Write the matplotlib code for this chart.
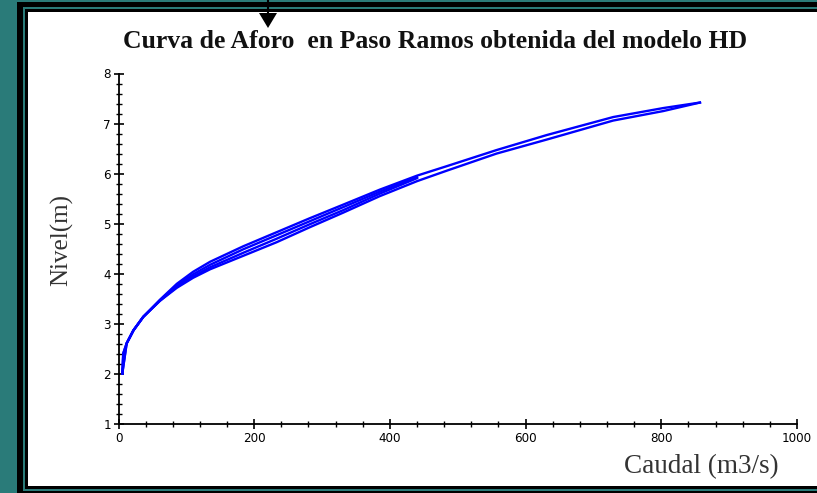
import matplotlib
matplotlib.use('Agg')
import matplotlib.pyplot as plt
from matplotlib.patches import Rectangle, Polygon
from matplotlib.lines import Line2D

# caudal (m3/s), shared by the two strands of the big flood
q_big = [5.6, 7, 12, 22, 36.5, 61, 86, 110, 135, 184, 233, 282, 331, 385,
         440, 484, 557, 631, 729, 803, 857]
# nivel (m): upper strand (falling limb) and lower strand (rising limb)
h_big_fall = [2.01, 2.41, 2.61, 2.87, 3.14, 3.48, 3.80, 4.04, 4.24, 4.55,
              4.83, 5.11, 5.38, 5.68, 5.96, 6.15, 6.47, 6.77, 7.13, 7.31, 7.42]
h_big_rise = [2.01, 2.41, 2.61, 2.87, 3.14, 3.46, 3.72, 3.92, 4.09, 4.36,
              4.63, 4.93, 5.22, 5.55, 5.85, 6.06, 6.40, 6.68, 7.06, 7.25, 7.42]

# smaller flood filling the band at lower discharges
q_mid = [5.6, 12, 22, 36.5, 61, 86, 110, 135, 184, 233, 282, 331, 385, 440]
h_mid_fall = [2.01, 2.61, 2.87, 3.14, 3.47, 3.77, 3.99, 4.18, 4.49, 4.77,
              5.05, 5.33, 5.64, 5.93]
h_mid_rise = [2.01, 2.61, 2.87, 3.14, 3.46, 3.74, 3.95, 4.13, 4.42, 4.70,
              4.99, 5.27, 5.60, 5.91]

W, H = 817, 493
fig = plt.figure(figsize=(W / 100, H / 100), dpi=100)
fig.patch.set_facecolor('#2a7b79')


def px_rect(x0, y0, x1, y1, color):
    # rectangle in pixel coords measured from the top-left corner
    fig.patches.append(Rectangle((x0 / W, 1 - y1 / H), (x1 - x0) / W, (y1 - y0) / H,
                                 transform=fig.transFigure, facecolor=color,
                                 edgecolor='none', zorder=-5))


# slide frame: black, thin teal line, black, white panel
px_rect(17, 2, 830, 493, 'black')
px_rect(23, 7, 830, 491, '#2a7b79')
px_rect(25, 9, 830, 489, 'black')
px_rect(28, 12, 830, 486, 'white')

# arrow coming down from above the panel
fig.lines.append(Line2D([268 / W, 268 / W], [1.0, 1 - 14 / H],
                        transform=fig.transFigure, color='black', lw=1.5))
fig.patches.append(Polygon([(259 / W, 1 - 13 / H), (277 / W, 1 - 13 / H),
                            (268 / W, 1 - 28 / H)], closed=True,
                           transform=fig.transFigure, facecolor='black',
                           edgecolor='none'))

ax = fig.add_axes([118.5 / W, 1 - 424 / H, 678.5 / W, 350.5 / H])
ax.set_facecolor('none')

blue = '#0000ff'
for qq, hh in [(q_big, h_big_fall), (q_big, h_big_rise),
               (q_mid, h_mid_fall), (q_mid, h_mid_rise)]:
    ax.plot(qq, hh, color=blue, lw=1.7, solid_joinstyle='round')

ax.set_xlim(0, 1000)
ax.set_ylim(1, 8)
ax.set_xticks(range(0, 1001, 200))
ax.set_xticks(range(0, 1001, 40), minor=True)
ax.set_yticks(range(1, 9))
ax.set_yticks([1 + 0.2 * k for k in range(36)], minor=True)

for s in ['top', 'right']:
    ax.spines[s].set_visible(False)
for s in ['left', 'bottom']:
    ax.spines[s].set_linewidth(1.3)

ax.tick_params(which='major', direction='inout', length=7, width=1.2,
               labelsize=9.5, pad=2)
ax.tick_params(which='minor', direction='inout', length=4, width=1.0)
for lab in ax.get_xticklabels() + ax.get_yticklabels():
    lab.set_family('DejaVu Sans')
    lab.set_stretch('condensed')

serif = ['Liberation Serif', 'DejaVu Serif']
fig.text(435 / W, 1 - 42 / H, 'Curva de Aforo  en Paso Ramos obtenida del modelo HD',
         ha='center', va='center', fontsize=18.5, fontweight='bold', family=serif,
         color='#111111')
fig.text(62 / W, 1 - 240 / H, 'Nivel(m)', rotation=90, ha='center', va='center',
         fontsize=18, family=serif, color='#333333')
fig.text(779 / W, 1 - 467 / H, 'Caudal (m3/s)', ha='right', va='center',
         fontsize=19.5, family=serif, color='#333333')

fig.savefig('out.png', dpi=100, facecolor=fig.get_facecolor())
